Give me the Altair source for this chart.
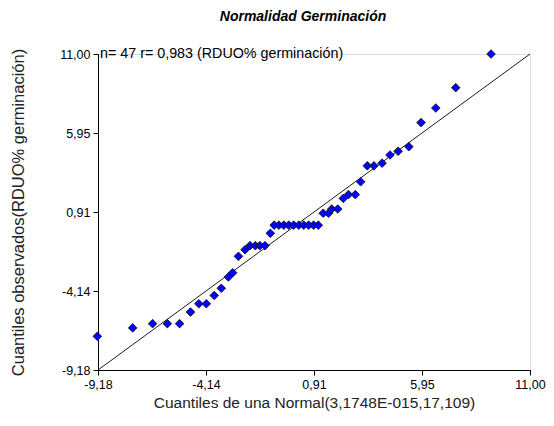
import altair as alt
import pandas as pd

x_q = [-9.21, -7.56, -6.63, -5.94, -5.37, -4.86, -4.47, -4.12, -3.75, -3.42,
       -3.09, -2.89, -2.62, -2.31, -2.08, -1.83, -1.62, -1.38, -1.13,
       -0.95, -0.73, -0.50, -0.27, -0.04, 0.20, 0.43, 0.66, 0.89, 1.11,
       1.34, 1.59, 1.74, 2.02, 2.28, 2.52, 2.84, 3.09, 3.40, 3.71,
       4.09, 4.46, 4.84, 5.34, 5.91, 6.60, 7.53, 9.18]
y_obs = [-7.03, -6.49, -6.22, -6.22, -6.22, -5.48, -4.95, -4.95, -4.42, -3.96,
         -3.24, -2.97, -1.92, -1.50, -1.24, -1.24, -1.24, -1.24, -0.45,
         0.07, 0.07, 0.07, 0.07, 0.07, 0.07, 0.07, 0.07, 0.07, 0.07,
         0.83, 0.83, 1.10, 1.10, 1.78, 2.02, 2.02, 2.84, 3.86, 3.86,
         4.03, 4.55, 4.79, 5.08, 6.62, 7.55, 8.85, 11.00]

line_x = [-9.18, 11.00]
line_y = [-9.18, 11.00]

tick_values = [-9.18, -4.135, 0.91, 5.955, 11.0]
tick_labels = ["-9,18", "-4,14", "0,91", "5,95", "11,00"]

label_expr = "[" + ",".join(f"'{t}'" for t in tick_labels) + "][indexof([" + \
    ",".join(str(v) for v in tick_values) + "], datum.value)]"

pts = pd.DataFrame({"x": x_q, "y": y_obs})
ln = pd.DataFrame({"x": line_x, "y": line_y})

FONT = "Liberation Sans"
dom = [-9.18, 11.0]

xenc = alt.X("x:Q", scale=alt.Scale(domain=dom, nice=False, zero=False),
             axis=alt.Axis(values=tick_values, labelExpr=label_expr,
                           title="Cuantiles de una Normal(3,1748E-015,17,109)",
                           grid=False, domainColor="black", tickColor="black",
                           tickSize=5, labelColor="black", labelFont=FONT,
                           labelFontSize=12.5, titleFont=FONT, titleFontSize=15.5,
                           titleFontWeight="normal", titleColor="#222222",
                           titlePadding=5, labelPadding=3, labelFlush=False))
yenc = alt.Y("y:Q", scale=alt.Scale(domain=dom, nice=False, zero=False),
             axis=alt.Axis(values=tick_values, labelExpr=label_expr,
                           title="Cuantiles observados(RDUO% germinación)",
                           grid=False, domainColor="black", tickColor="black",
                           tickSize=5, labelColor="black", labelFont=FONT,
                           labelFontSize=12.5, titleFont=FONT, titleFontSize=16.5,
                           titleFontWeight="normal", titleColor="#222222",
                           titlePadding=33, labelPadding=3, labelFlush=False))

line = alt.Chart(ln).mark_line(color="black", strokeWidth=0.9).encode(x=xenc, y=yenc)

points = alt.Chart(pts).mark_point(shape="diamond", filled=True, fill="#0000FF",
                                   stroke="#111111", strokeWidth=0.8, size=75,
                                   opacity=1).encode(x=xenc, y=yenc)

note = alt.Chart(pd.DataFrame({"t": ["n= 47 r= 0,983 (RDUO% germinación)"]})).mark_text(
    align="left", baseline="middle", font=FONT, fontSize=14.3, color="black"
).encode(x=alt.value(2), y=alt.value(0), text="t:N")

chart = alt.layer(line, points, note).properties(
    width=432, height=316,
    padding={"left": 90, "top": 46, "right": 16, "bottom": 43},
    autosize=alt.AutoSizeParams(type="none"),
    title=alt.TitleParams("Normalidad Germinación", font=FONT, fontSize=14,
                          fontStyle="italic", fontWeight="bold", color="black",
                          anchor="middle", offset=23, dx=-11),
).configure_view(stroke=None).configure(background="white")

chart.save("out.html", embed_options={"renderer": "svg", "actions": False})
